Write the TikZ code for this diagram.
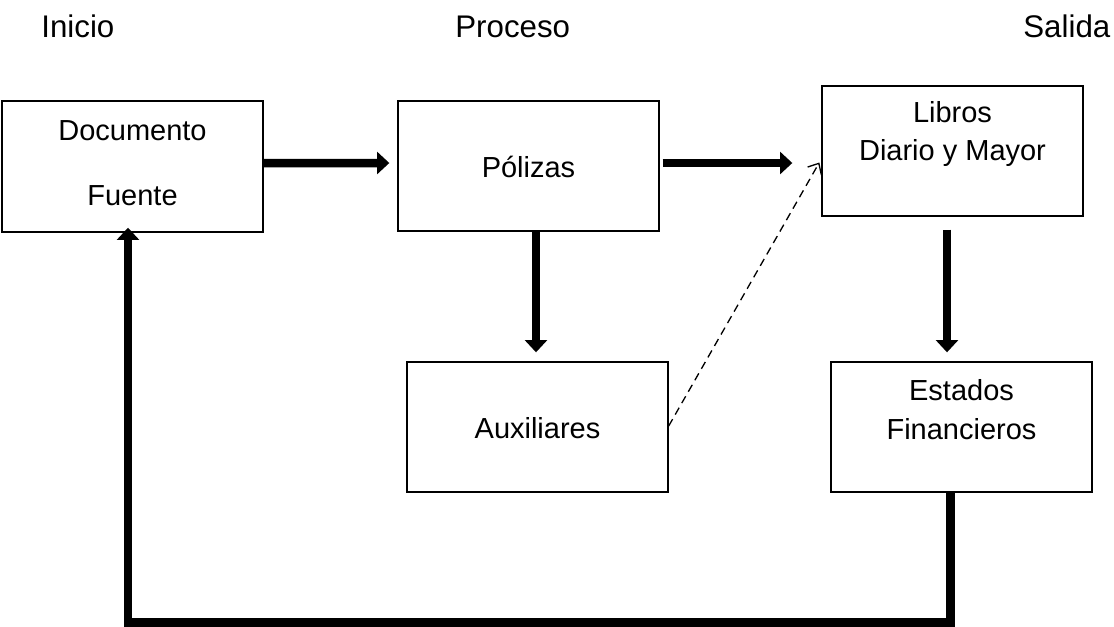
\documentclass[tikz,border=0pt]{standalone}
\usepackage{fontspec}
\setmainfont{Liberation Sans}
\usetikzlibrary{arrows.meta,calc}
\begin{document}
\begin{tikzpicture}[x=0.02cm,y=-0.02cm,
  box/.style={draw,line width=0.8pt,minimum width=5.22cm,minimum height=2.6cm,inner sep=0pt},
  txt/.style={align=center,font=\fontsize{16.5}{22.1}\selectfont,inner sep=0pt},
  head/.style={font=\fontsize{17.8}{21}\selectfont,inner sep=0pt,anchor=base west},
  fat/.style={line width=0.17cm,-{Triangle[length=7pt,width=12.5pt]}},
  dashedarrow/.style={line width=0.75pt,dash pattern=on 4.5pt off 3pt,-{Straight Barb[length=5pt,width=9pt]}}]
\useasboundingbox (0,0) rectangle (1114,626);
% headers
\node[head] (h1) at (41,37) {Inicio};
\node[head] (h2) at (455,37) {Proceso};
\node[head] (h3) at (1023,37) {Salida};
% boxes
\node[box,minimum height=2.62cm] (doc) at (132.5,166.5) {};
\node[box] (pol) at (528.5,166) {};
\node[box] (lib) at (952.5,151) {};
\node[box] (aux) at (537.5,427) {};
\node[box] (est) at (961.5,427) {};
% texts
\node[txt] (tdoc) at ($(doc.center)+(0,-3)$) {Documento\\[14.8pt]Fuente};
\node[txt] (tpol) at ($(pol.center)+(0,1)$) {Pólizas};
\node[txt] (tlib) at ($(lib.center)+(0,-17)$) {Libros\\Diario y Mayor};
\node[txt] (taux) at ($(aux.center)+(0,1)$) {Auxiliares};
\node[txt] (test) at ($(est.center)+(0,-17)$) {Estados\\Financieros};
% arrows
\draw[fat,shorten >=0.16cm] ([yshift=0.07cm]doc.east) -- ([yshift=0.06cm]pol.west);
\draw[fat,shorten <=0.06cm,shorten >=0.58cm] ([yshift=0.06cm]pol.east) -- ([yshift=0.06cm]pol.east -| lib.west);
\draw[fat,shorten >=0.18cm] ([xshift=-0.03cm]aux.north |- pol.south) -- ([xshift=-0.03cm]aux.north);
\draw[fat,shorten <=0.26cm,shorten >=0.18cm] ([xshift=-0.11cm]lib.south) -- ([xshift=-0.11cm]lib.south |- est.north);
\draw[fat,shorten >=-0.1cm] ([xshift=-0.22cm]est.south) -- ++(0,130) -| ([xshift=-0.09cm]doc.south);
\draw[dashedarrow,shorten >=0.08cm] ([yshift=0.02cm]aux.east) -- ([yshift=-0.16cm]lib.west);
\end{tikzpicture}
\end{document}
